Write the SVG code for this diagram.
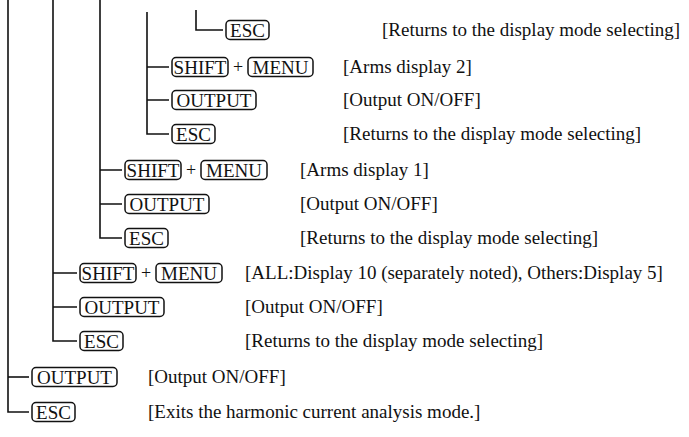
<svg xmlns="http://www.w3.org/2000/svg" width="689" height="437" viewBox="0 0 689 437">
<style>
.bg{fill:#fff}
.ln{stroke:#111;stroke-width:1.6;fill:none}
.key rect{fill:#fff;stroke:#111;stroke-width:1.5}
.key text{font-family:"Liberation Serif","Times New Roman",serif;font-size:19px;fill:#111;text-anchor:middle}
.plus{font-family:"Liberation Serif",serif;font-size:18px;fill:#111;text-anchor:middle}
.note{font-family:"Liberation Serif","Times New Roman",serif;font-size:19px;fill:#111}
</style>
<rect class="bg" width="689" height="437"/>
<g id="connectors" class="ln">
<path d="M8 0V412H29"/>
<path d="M8 377H29"/>
<path d="M53 0V341H77"/>
<path d="M53 273H77M53 307H77"/>
<path d="M100 0V238H122"/>
<path d="M100 170H122M100 204H122"/>
<path d="M147 12V134H169"/>
<path d="M147 67H169M147 100H169"/>
<path d="M196 10V30H223"/>
</g>
<g id="r1" class="key"><rect x="226" y="20.5" width="43" height="19" rx="4"/><text x="247.5" y="36.5">ESC</text></g>
<text class="note" x="382" y="36">[Returns to the display mode selecting]</text>

<g id="r2" class="key"><rect x="172" y="57.5" width="56" height="19" rx="4"/><text x="200" y="73.5">SHIFT</text><rect x="248" y="57.5" width="65" height="19" rx="4"/><text x="280.5" y="73.5">MENU</text></g>
<text class="plus" x="238" y="73">+</text>
<text class="note" x="343" y="73">[Arms display 2]</text>

<g id="r3" class="key"><rect x="172" y="90.5" width="84" height="19" rx="4"/><text x="214" y="106.5">OUTPUT</text></g>
<text class="note" x="343" y="106">[Output ON/OFF]</text>

<g id="r4" class="key"><rect x="172" y="124.5" width="43" height="19" rx="4"/><text x="193.5" y="140.5">ESC</text></g>
<text class="note" x="343" y="140">[Returns to the display mode selecting]</text>

<g id="r5" class="key"><rect x="125" y="160.5" width="56" height="19" rx="4"/><text x="153" y="176.5">SHIFT</text><rect x="201" y="160.5" width="66" height="19" rx="4"/><text x="234" y="176.5">MENU</text></g>
<text class="plus" x="191" y="176">+</text>
<text class="note" x="300" y="176">[Arms display 1]</text>

<g id="r6" class="key"><rect x="125" y="194.5" width="84" height="19" rx="4"/><text x="167" y="210.5">OUTPUT</text></g>
<text class="note" x="300" y="210">[Output ON/OFF]</text>

<g id="r7" class="key"><rect x="125" y="228.5" width="43" height="19" rx="4"/><text x="146.5" y="244.5">ESC</text></g>
<text class="note" x="300" y="244">[Returns to the display mode selecting]</text>

<g id="r8" class="key"><rect x="80" y="263.5" width="56" height="19" rx="4"/><text x="108" y="279.5">SHIFT</text><rect x="156" y="263.5" width="66" height="19" rx="4"/><text x="189" y="279.5">MENU</text></g>
<text class="plus" x="146" y="279">+</text>
<text class="note" x="245" y="279">[ALL:Display 10 (separately noted), Others:Display 5]</text>

<g id="r9" class="key"><rect x="80" y="297.5" width="84" height="19" rx="4"/><text x="122" y="313.5">OUTPUT</text></g>
<text class="note" x="245" y="313">[Output ON/OFF]</text>

<g id="r10" class="key"><rect x="80" y="331.5" width="43" height="19" rx="4"/><text x="101.5" y="347.5">ESC</text></g>
<text class="note" x="245" y="347">[Returns to the display mode selecting]</text>

<g id="r11" class="key"><rect x="32" y="367.5" width="85" height="19" rx="4"/><text x="74.5" y="383.5">OUTPUT</text></g>
<text class="note" x="148" y="383">[Output ON/OFF]</text>

<g id="r12" class="key"><rect x="32" y="402.5" width="43" height="19" rx="4"/><text x="53.5" y="418.5">ESC</text></g>
<text class="note" x="148" y="418">[Exits the harmonic current analysis mode.]</text>
</svg>
